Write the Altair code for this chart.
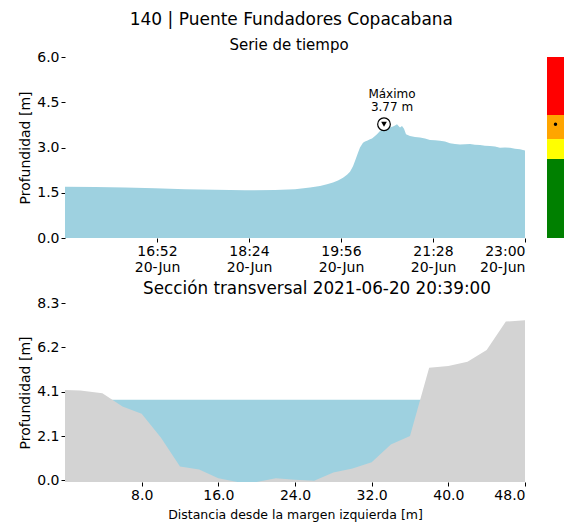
import altair as alt
import pandas as pd

# ---------------- data ----------------
times = [
    "15:20", "15:50", "16:20", "16:50", "17:20", "17:50", "18:20", "18:50", "19:10", "19:25",
    "19:35", "19:42", "19:48", "19:53", "19:58", "20:02", "20:05", "20:08", "20:10", "20:13",
    "20:15", "20:18", "20:20", "20:22", "20:25", "20:27", "20:30", "20:32", "20:35", "20:37",
    "20:40", "20:43", "20:45", "20:48", "20:50", "20:52", "20:54", "20:55", "20:57", "20:59",
    "21:01", "21:05", "21:10", "21:15", "21:20", "21:25", "21:30", "21:35", "21:40", "21:45",
    "21:50", "21:55", "22:00", "22:05", "22:10", "22:15", "22:20", "22:25", "22:30", "22:35",
    "22:40", "22:45", "22:50", "22:55", "23:00",
]
depth = [
    1.70, 1.69, 1.67, 1.65, 1.62, 1.60, 1.58, 1.59, 1.62, 1.67,
    1.72, 1.78, 1.84, 1.91, 2.00, 2.10, 2.20, 2.38, 2.55, 2.83,
    3.00, 3.16, 3.20, 3.22, 3.27, 3.30, 3.38, 3.44, 3.55, 3.58,
    3.62, 3.64, 3.66, 3.70, 3.73, 3.77, 3.70, 3.66, 3.71, 3.62,
    3.44, 3.38, 3.35, 3.33, 3.30, 3.25, 3.24, 3.22, 3.20, 3.14,
    3.12, 3.10, 3.11, 3.12, 3.09, 3.08, 3.06, 3.05, 3.03, 2.99,
    3.00, 2.99, 2.96, 2.94, 2.90,
]
max_time = "20:39"
max_value = 3.77
time_ticks = ["16:52", "18:24", "19:56", "21:28", "23:00"]
depth_ticks = [0.0, 1.5, 3.0, 4.5, 6.0]

# alert bands for the colour bar
band_low = [0.0, 2.62, 3.28, 4.08]
band_high = [2.62, 3.28, 4.08, 6.0]
band_color = ["#008000", "#FFFF00", "#FFA500", "#FF0000"]

# cross-section
dist = [0, 1.6, 3.9, 6.0, 8.0, 10.0, 12.0, 14.0, 16.0, 18.0, 20.0, 22.0, 24.0,
        26.0, 28.0, 30.0, 32.0, 34.0, 36.0, 38.0, 40.0, 42.0, 44.0, 46.0, 48.0]
ground = [4.23, 4.20, 4.07, 3.45, 3.11, 2.0, 0.65, 0.50, 0.10, -0.08, -0.08, 0.10, 0.03,
          -0.02, 0.36, 0.55, 0.85, 1.68, 2.07, 5.27, 5.35, 5.55, 6.10, 7.43, 7.49]
water_level = 3.77
sec_ticks_y = [0.0, 2.07, 4.14, 6.22, 8.3]
sec_ticks_x = [8.0, 16.0, 24.0, 32.0, 40.0, 48.0]

DAY = "2021-06-20T"
FONT = "DejaVu Sans"
WATER = "#9ed1e0"
GROUND = "#d3d3d3"

ts = pd.DataFrame({"t": [DAY + t + ":00" for t in times], "d": depth})
mx = pd.DataFrame({"t": [DAY + max_time + ":00"], "d": [max_value]})


def dt(hm):
    h, m = hm.split(":")
    return alt.DateTime(year=2021, month=6, date=20, hours=int(h), minutes=int(m))


xt = alt.X("t:T", title=None,
           scale=alt.Scale(domain=[dt(times[0]), dt(times[-1])]),
           axis=alt.Axis(values=[dt(v) for v in time_ticks],
                         labelExpr="[timeFormat(datum.value, '%H:%M'), timeFormat(datum.value, '%d-%b')]",
                         labelLineHeight=16))
yt = alt.Y("d:Q", title="Profundidad [m]",
           scale=alt.Scale(domain=[0, 6], nice=False),
           axis=alt.Axis(values=depth_ticks, format=".1f"))

area = alt.Chart(ts).mark_area(color=WATER, opacity=1, interpolate="linear").encode(x=xt, y=yt)
circ = alt.Chart(mx).mark_point(shape="circle", size=160, filled=True, fill="white",
                                stroke="black", strokeWidth=1.2, opacity=1).encode(x="t:T", y="d:Q")
tri = alt.Chart(mx).mark_point(shape="triangle-down", size=32, filled=True, color="black",
                               opacity=1).encode(x="t:T", y="d:Q")
lbl = alt.Chart(mx).mark_text(text=["Máximo", "3.77 m"], font=FONT, fontSize=12, align="center",
                              baseline="alphabetic", dx=8, dy=-26, lineHeight=13).encode(x="t:T", y="d:Q")

top = alt.layer(area, circ, tri, lbl).properties(
    width=460, height=181,
    title=alt.TitleParams("Serie de tiempo", fontSize=15, font=FONT, fontWeight="normal",
                          anchor="middle", offset=-3, dx=-6))

bands = pd.DataFrame({"lo": band_low, "hi": band_high, "c": band_color})
rects = alt.Chart(bands).mark_rect().encode(
    y=alt.Y("lo:Q", scale=alt.Scale(domain=[0, 6], nice=False), axis=None),
    y2="hi:Q",
    color=alt.Color("c:N", scale=None))
dot = alt.Chart(pd.DataFrame({"v": [max_value]})).mark_point(
    shape="circle", size=12, filled=True, color="black", opacity=1).encode(
    y=alt.Y("v:Q", scale=alt.Scale(domain=[0, 6], nice=False), axis=None))
cbar = alt.layer(rects, dot).properties(width=17, height=181)

row1 = alt.hconcat(top, cbar, spacing=22, bounds="flush")

sec = pd.DataFrame({"x": dist, "g": ground, "w": [water_level] * len(dist), "b": [min(ground)] * len(dist)})
xs = alt.X("x:Q", title="Distancia desde la margen izquierda [m]",
           scale=alt.Scale(domain=[0, 48], nice=False),
           axis=alt.Axis(values=sec_ticks_x, format=".1f", titleFontSize=12.5, titlePadding=6))
ys = alt.Y("w:Q", title="Profundidad [m]",
           scale=alt.Scale(domain=[min(ground), 8.3], nice=False, zero=False),
           axis=alt.Axis(values=sec_ticks_y, format=".1f"))
water = alt.Chart(sec).mark_area(color=WATER, opacity=1).encode(x=xs, y=ys, y2="b:Q")
grd = alt.Chart(sec).mark_area(color=GROUND, opacity=1).encode(x="x:Q", y="g:Q", y2="b:Q")

bottom = alt.layer(water, grd).properties(
    width=460, height=179,
    title=alt.TitleParams("Sección transversal 2021-06-20 20:39:00", fontSize=16.8, font=FONT,
                          fontWeight="normal", anchor="middle", offset=-2, dx=22))

chart = alt.vconcat(row1, bottom, spacing=7).properties(
    title=alt.TitleParams("140 | Puente Fundadores Copacabana", fontSize=17, font=FONT,
                          fontWeight="normal", anchor="middle", offset=9),
    padding={"left": 10, "top": 3, "right": 0, "bottom": 2},
).configure_view(stroke=None).configure_axis(
    domain=False, grid=False, tickSize=4, tickColor="black", labelColor="black",
    labelFont=FONT, labelFontSize=14, titleFont=FONT, titleFontSize=14,
    titleFontWeight="normal", titleColor="black", labelPadding=2,
)

chart.save("out.html", embed_options={"renderer": "svg", "actions": False})
